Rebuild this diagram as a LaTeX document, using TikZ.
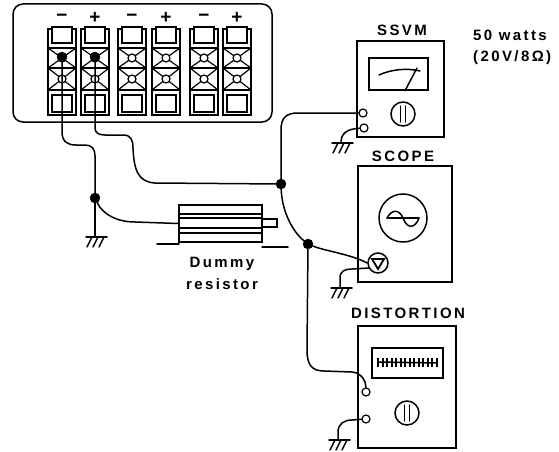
\documentclass[tikz,border=0pt]{standalone}
\usepackage{fontspec}
\setmainfont[LetterSpace=16]{Liberation Sans}
\usetikzlibrary{positioning}
\tikzset{
  wire/.style={line width=1.5pt, line cap=round},
  box/.style={draw, line width=1.5pt, inner sep=0pt},
  title/.style={font=\bfseries\fontsize{15}{17}\selectfont, inner sep=0pt},
  signlbl/.style={font=\bfseries\fontsize{19}{19}\selectfont, inner sep=0pt},
  dot/.style={circle, fill=black, draw=black, inner sep=0pt, minimum size=10pt},
  post/.style={circle, draw, fill=white, line width=1.2pt, inner sep=0pt, minimum size=8pt},
  knob/.style={circle, draw, line width=1.5pt, inner sep=0pt, minimum size=24pt},
  gnd/.pic={
    \draw[wire] (-9,0) -- (12,0);
    \foreach \h in {-3,3,9} \draw[wire] (\h,0) -- (\h-5,10);
  }
}

\begin{document}
\begin{tikzpicture}[x=1pt,y=-1pt]
  \useasboundingbox (0,0) rectangle (559,452);

  % amplifier back panel
  \draw[line width=1.5pt, rounded corners=10pt] (13,4) rectangle (272,122);
  \foreach \x/\s in {62/−,95/+,132/−,166/+,204/−,237/+} {
    \node[signlbl] at (\x,18) {\s};
    \draw[line width=1.2pt] (\x-14,48) -- (\x-14,29) -- (\x-10,29);
    \draw[line width=1.2pt] (\x+14,48) -- (\x+14,29) -- (\x+10,29);
    \draw[line width=1.2pt] (\x-10,27) rectangle (\x+10,43);
    \draw[line width=1.2pt] (\x-14,48) rectangle (\x+14,90);
    \draw[line width=1.2pt] (\x-14,68) -- (\x+14,68);
    \draw[line width=1.2pt] (\x-14,48) -- (\x+14,68) (\x+14,48) -- (\x-14,68);
    \draw[line width=1.2pt] (\x-14,68) -- (\x+14,90) (\x+14,68) -- (\x-14,90);
    \draw[line width=1.2pt] (\x-14,90) -- (\x-14,115) -- (\x+14,115) -- (\x+14,90);
    \draw[line width=1.2pt] (\x-10,95) rectangle (\x+10,112);
    \node[post] at (\x,58) {};
    \node[post] at (\x,79) {};
  }
  \node[dot] (neg) at (62,57) {};
  \node[dot] (pos) at (95,57) {};

  % instruments
  \node[box, minimum width=87pt, minimum height=96pt] (ssvm) at (400.5,89) {};
  \node[box, minimum width=94pt, minimum height=116pt] (scope) at (405,224) {};
  \node[box, minimum width=98pt, minimum height=122pt] (dist) at (407,387) {};
  \node[title] (ssvmlbl) at (402,30) {SSVM};
  \node[title] (scopelbl) at (403,156) {SCOPE};
  \node[title] (distlbl) at (408,313) {DISTORTION};
  \node[title, anchor=west] (watts) at (473,35) {50 watts};
  \node[title, anchor=west] (volts) at (473,58) {(20V/8Ω)};

  % ssvm front
  \node[box, minimum width=59pt, minimum height=32pt] (ssvmmeter) at (398.5,74) {};
  \draw[wire] (379,75) .. controls (392,69) and (408,68) .. (420,71);
  \draw[wire] (ssvmmeter.south -| 405,0) -- (417,68);
  \node[knob] (ssvmknob) at (403,114) {};
  \draw[wire] (400.5,106) -- (400.5,122) (405.5,106) -- (405.5,122);
  \node[post] (ssvma) at (363,113) {};
  \node[post] (ssvmb) at (364,128) {};

  % scope front
  \node[knob, minimum size=48pt] (scopeknob) at (403,218) {};
  \draw[wire] (387,218) -- (419,218);
  \draw[wire] (387,218) .. controls (392,209) and (399,209) .. (403,218)
    .. controls (407,229) and (415,229) .. (419,218);
  \node[post, minimum size=20pt, line width=1.5pt] (scopein) at (378,263) {};
  \draw[wire, line width=1.8pt] (372,259) -- (384,259) -- (378,269) -- cycle;

  % distortion front
  \node[box, minimum width=71pt, minimum height=30pt] (distmeter) at (407.5,363) {};
  \draw[wire] (378,362) -- (437,363);
  \foreach \x in {378,383,387,392,396,401,405,410,414,419,423,428,432,437}
    \draw[line width=1.2pt] (\x,358) -- (\x,367);
  \node[knob] (distknob) at (407,413) {};
  \draw[wire] (404.5,405) -- (404.5,421) (409.5,405) -- (409.5,421);
  \node[post] (dista) at (366,392) {};
  \node[post] (distb) at (366,419) {};

  % dummy load
  \node[box, minimum width=83pt, minimum height=37pt] (res) at (220.5,223.5) {};
  \draw[wire] (179,214) -- (262,214) (179,218) -- (262,218);
  \draw[wire] (179,228) -- (262,228) (179,233) -- (262,233);
  \draw[wire] (262,219) -- (277,219) -- (277,227) -- (262,227);
  \draw[wire] (157,244) -- (179,244) (262,247) -- (288,247);
  \node[title] (dummy) at (222,264) {Dummy};
  \node[title] (reslbl) at (222,284) {resistor};

  % junctions
  \node[dot] (jleft) at (95,198) {};
  \node[dot] (jmain) at (281,184) {};
  \node[dot] (jlow) at (308,244) {};

  % wiring
  \draw[wire] (neg) -- (62,132) .. controls (62,142) and (68,145) .. (76,145)
    -- (85,145) .. controls (92,145) and (95,149) .. (95,156) -- (jleft);
  \draw[wire] (pos) -- (95,128) .. controls (95,133) and (99,135) .. (105,135)
    -- (123,135) .. controls (131,135) and (133,140) .. (133,148)
    .. controls (134,170) and (138,182) .. (155,183) -- (jmain);
  \draw[wire] (jleft) .. controls (103,215) and (118,222) .. (135,222) -- (res.west);
  \draw[wire] (jmain) -- (281,130) .. controls (281,118) and (286,113) .. (298,113) -- (ssvma);
  \draw[wire] (jmain) .. controls (282,212) and (293,232) .. (jlow);
  \draw[wire] (jlow) .. controls (325,251) and (350,254) .. (scopein.west);
  \draw[wire] (jlow) -- (307,350) .. controls (307,365) and (312,371) .. (324,371)
    -- (352,372) .. controls (361,373) and (366,380) .. (dista);

  % earth returns
  \coordinate (gnda) at (95,237);
  \coordinate (gndb) at (341,143);
  \coordinate (gndc) at (340,288);
  \coordinate (gndd) at (338,440);
  \draw[wire] (jleft) -- (gnda);
  \draw[wire] (gndb) .. controls (341,133) and (347,129) .. (ssvmb);
  \draw[wire] (gndc) -- (340,278) .. controls (340,271) and (345,269) .. (352,269) -- (369,268);
  \draw[wire] (gndd) -- (338,432) .. controls (338,424) and (344,420) .. (352,420) -- (distb);
  \pic at (gnda) {gnd};
  \pic at (gndb) {gnd};
  \pic at (gndc) {gnd};
  \pic at (gndd) {gnd};
\end{tikzpicture}
\end{document}
